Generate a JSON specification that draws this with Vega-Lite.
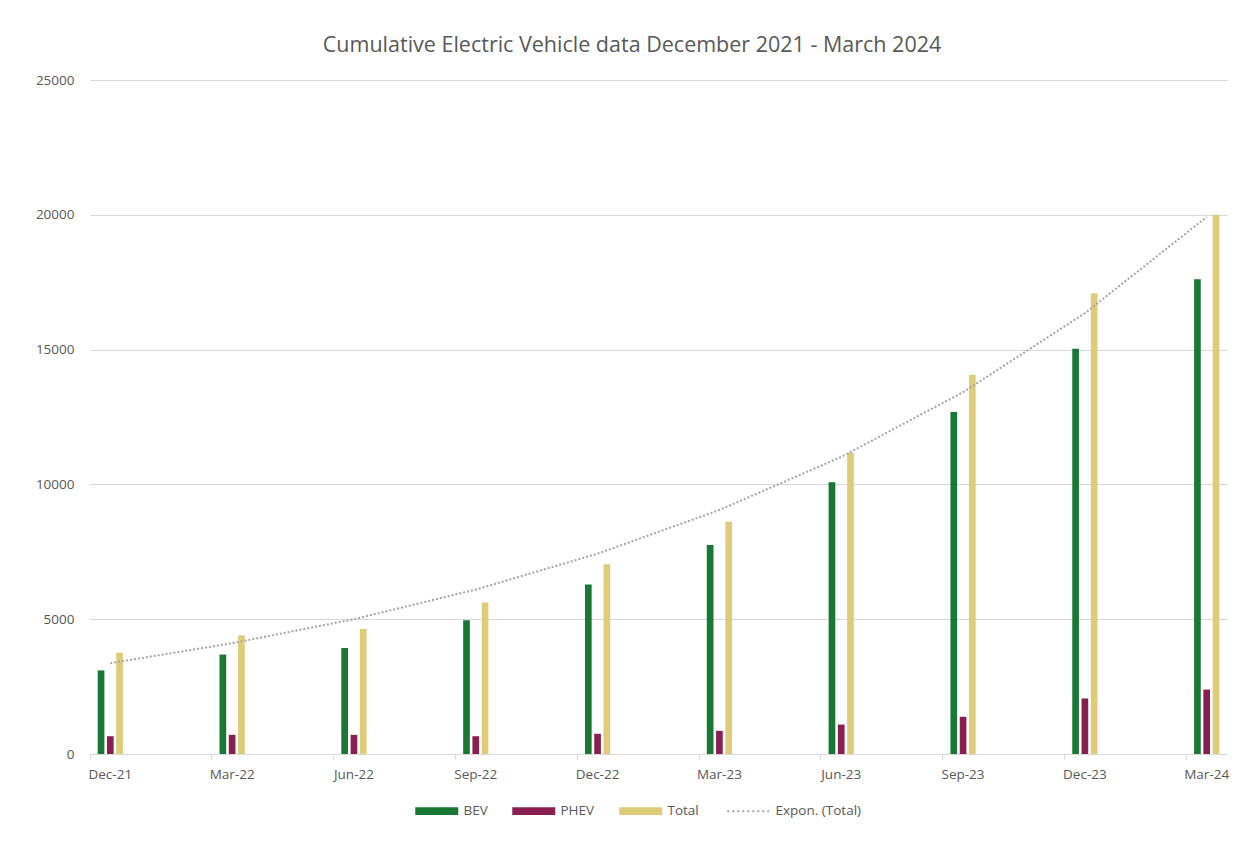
{
  "$schema": "https://vega.github.io/schema/vega-lite/v6.json",
  "width": 1137,
  "height": 674,
  "autosize": {"type": "none"},
  "padding": {"left": 90, "top": 80, "right": 16, "bottom": 89},
  "background": "white",
  "config": {"view": {"stroke": null}},
  "title": {
    "text": "Cumulative Electric Vehicle data December 2021 - March 2024",
    "font": "Open Sans",
    "fontSize": 21.5,
    "fontWeight": "normal",
    "color": "#595959",
    "anchor": "middle",
    "frame": "bounds",
    "baseline": "alphabetic",
    "offset": 0
  },
  "datasets": {
    "bars": [
      {"month": "Dec-21", "series": "BEV", "value": 3100},
      {"month": "Dec-21", "series": "PHEV", "value": 660},
      {"month": "Dec-21", "series": "Total", "value": 3760},
      {"month": "Mar-22", "series": "BEV", "value": 3690},
      {"month": "Mar-22", "series": "PHEV", "value": 710},
      {"month": "Mar-22", "series": "Total", "value": 4400},
      {"month": "Jun-22", "series": "BEV", "value": 3930},
      {"month": "Jun-22", "series": "PHEV", "value": 710},
      {"month": "Jun-22", "series": "Total", "value": 4640},
      {"month": "Sep-22", "series": "BEV", "value": 4960},
      {"month": "Sep-22", "series": "PHEV", "value": 660},
      {"month": "Sep-22", "series": "Total", "value": 5620},
      {"month": "Dec-22", "series": "BEV", "value": 6290},
      {"month": "Dec-22", "series": "PHEV", "value": 750},
      {"month": "Dec-22", "series": "Total", "value": 7040},
      {"month": "Mar-23", "series": "BEV", "value": 7750},
      {"month": "Mar-23", "series": "PHEV", "value": 860},
      {"month": "Mar-23", "series": "Total", "value": 8610},
      {"month": "Jun-23", "series": "BEV", "value": 10080},
      {"month": "Jun-23", "series": "PHEV", "value": 1090},
      {"month": "Jun-23", "series": "Total", "value": 11170},
      {"month": "Sep-23", "series": "BEV", "value": 12690},
      {"month": "Sep-23", "series": "PHEV", "value": 1380},
      {"month": "Sep-23", "series": "Total", "value": 14070},
      {"month": "Dec-23", "series": "BEV", "value": 15030},
      {"month": "Dec-23", "series": "PHEV", "value": 2060},
      {"month": "Dec-23", "series": "Total", "value": 17090},
      {"month": "Mar-24", "series": "BEV", "value": 17610},
      {"month": "Mar-24", "series": "PHEV", "value": 2390},
      {"month": "Mar-24", "series": "Total", "value": 20000}
    ],
    "trend": [
      {"month": "Dec-21", "trend": 3370},
      {"month": "Mar-22", "trend": 4110},
      {"month": "Jun-22", "trend": 5000},
      {"month": "Sep-22", "trend": 6100},
      {"month": "Dec-22", "trend": 7430},
      {"month": "Mar-23", "trend": 9050},
      {"month": "Jun-23", "trend": 11020},
      {"month": "Sep-23", "trend": 13420},
      {"month": "Dec-23", "trend": 16350},
      {"month": "Mar-24", "trend": 19920}
    ]
  },
  "layer": [
    {
      "data": {"name": "bars"},
      "mark": {"type": "bar"},
      "encoding": {
        "x": {
          "field": "month",
          "type": "ordinal",
          "sort": null,
          "scale": {
            "domain": ["Dec-21", "Jan-22", "Feb-22", "Mar-22", "Apr-22", "May-22", "Jun-22", "Jul-22", "Aug-22", "Sep-22", "Oct-22", "Nov-22", "Dec-22", "Jan-23", "Feb-23", "Mar-23", "Apr-23", "May-23", "Jun-23", "Jul-23", "Aug-23", "Sep-23", "Oct-23", "Nov-23", "Dec-23", "Jan-24", "Feb-24", "Mar-24"],
            "paddingInner": 0,
            "paddingOuter": 0
          },
          "axis": {
            "values": ["Dec-21", "Mar-22", "Jun-22", "Sep-22", "Dec-22", "Mar-23", "Jun-23", "Sep-23", "Dec-23", "Mar-24"],
            "bandPosition": 0,
            "title": null,
            "labelAngle": 0,
            "tickSize": 5,
            "tickColor": "#d9d9d9",
            "domainColor": "#d9d9d9",
            "labelFont": "Open Sans",
            "labelFontSize": 13.5,
            "labelColor": "#595959",
            "labelPadding": 8,
            "grid": false
          }
        },
        "xOffset": {
          "field": "series",
          "type": "nominal",
          "sort": ["BEV", "PHEV", "Total"],
          "scale": {"paddingInner": 0.28, "paddingOuter": 0.83}
        },
        "y": {
          "field": "value",
          "type": "quantitative",
          "scale": {"domain": [0, 25000], "nice": false},
          "axis": {
            "values": [0, 5000, 10000, 15000, 20000, 25000],
            "format": "d",
            "title": null,
            "domain": false,
            "ticks": false,
            "tickSize": 0,
            "labelPadding": 16,
            "gridColor": "#d9d9d9",
            "labelFont": "Open Sans",
            "labelFontSize": 13.5,
            "labelColor": "#595959"
          }
        },
        "color": {
          "field": "series",
          "type": "nominal",
          "scale": {
            "domain": ["BEV", "PHEV", "Total", "Expon. (Total)"],
            "range": ["#187834", "#891F50", "#DECC78", "#A6A6A6"]
          },
          "legend": {
            "orient": "none",
            "legendX": 340,
            "legendY": 724,
            "direction": "horizontal",
            "title": null,
            "symbolSize": 1849,
            "symbolType": "M-1,-0.186H1V0.186H-1Z",
            "labelFont": "Open Sans",
            "labelFontSize": 13.5,
            "labelColor": "#595959",
            "labelOffset": 20,
            "columnPadding": 24,
            "encode": {
              "symbols": {
                "update": {
                  "shape": {"signal": "datum.value === 'Expon. (Total)' ? 'M-1,0H1' : 'M-1,-0.186H1V0.186H-1Z'"},
                  "fill": {"signal": "scale('color', datum.value)"},
                  "stroke": {"signal": "scale('color', datum.value)"},
                  "fillOpacity": {"signal": "datum.value === 'Expon. (Total)' ? 0 : 1"},
                  "strokeWidth": {"signal": "datum.value === 'Expon. (Total)' ? 2 : 0"},
                  "strokeDash": {"signal": "datum.value === 'Expon. (Total)' ? [2, 3] : [1, 0]"}
                }
              }
            }
          }
        }
      }
    },
    {
      "data": {"name": "trend"},
      "mark": {"type": "line", "strokeDash": [2, 2], "strokeWidth": 2},
      "encoding": {
        "x": {"field": "month", "type": "ordinal"},
        "y": {"field": "trend", "type": "quantitative", "scale": {"domain": [0, 25000], "nice": false}},
        "color": {"datum": "Expon. (Total)"}
      }
    }
  ]
}
